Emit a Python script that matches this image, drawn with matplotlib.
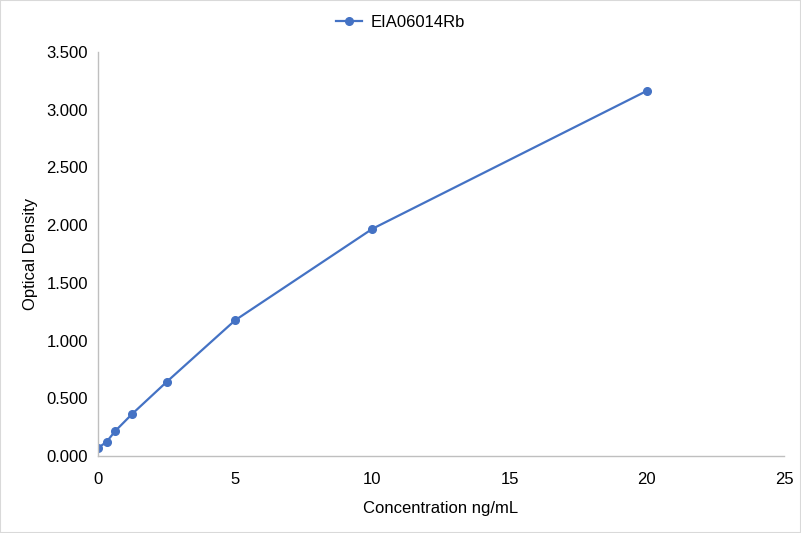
import matplotlib
matplotlib.use('Agg')
import matplotlib.pyplot as plt
from matplotlib.ticker import FormatStrFormatter

conc = [0, 0.3125, 0.625, 1.25, 2.5, 5, 10, 20]
od = [0.069, 0.122, 0.215, 0.365, 0.641, 1.176, 1.968, 3.163]
series_name = 'EIA06014Rb'

plt.rcParams['font.family'] = ['Liberation Sans', 'DejaVu Sans']

fig = plt.figure(figsize=(8.01, 5.33), dpi=100)
ax = fig.add_axes([0.1223, 0.1445, 0.8565, 0.758])
ax.plot(conc, od, color='#4472C4', linewidth=1.6, marker='o', markersize=5.5, label=series_name)

ax.set_xlim(0, 25)
ax.set_ylim(0, 3.5)
ax.set_xticks([0, 5, 10, 15, 20, 25])
ax.set_yticks([0, 0.5, 1.0, 1.5, 2.0, 2.5, 3.0, 3.5])
ax.yaxis.set_major_formatter(FormatStrFormatter('%.3f'))
ax.tick_params(length=0, labelsize=12, colors='#000000')
ax.tick_params(axis='y', pad=7)
ax.tick_params(axis='x', pad=11.5)
for side in ['top', 'right']:
    ax.spines[side].set_visible(False)
for side in ['left', 'bottom']:
    ax.spines[side].set_color('#BFBFBF')
    ax.spines[side].set_linewidth(1)

ax.set_xlabel('Concentration ng/mL', fontsize=12, labelpad=10)
ax.set_ylabel('Optical Density', fontsize=12, labelpad=6)
fig.legend(loc='center', bbox_to_anchor=(0.5, 1 - 22 / 533), frameon=False, fontsize=12,
           handlelength=1.6, handletextpad=0.5)

fig.patches.append(plt.Rectangle((0, 0), 1, 1, transform=fig.transFigure, fill=False,
                                 edgecolor='#D9D9D9', linewidth=1.5))
fig.savefig('out.png', dpi=100)
